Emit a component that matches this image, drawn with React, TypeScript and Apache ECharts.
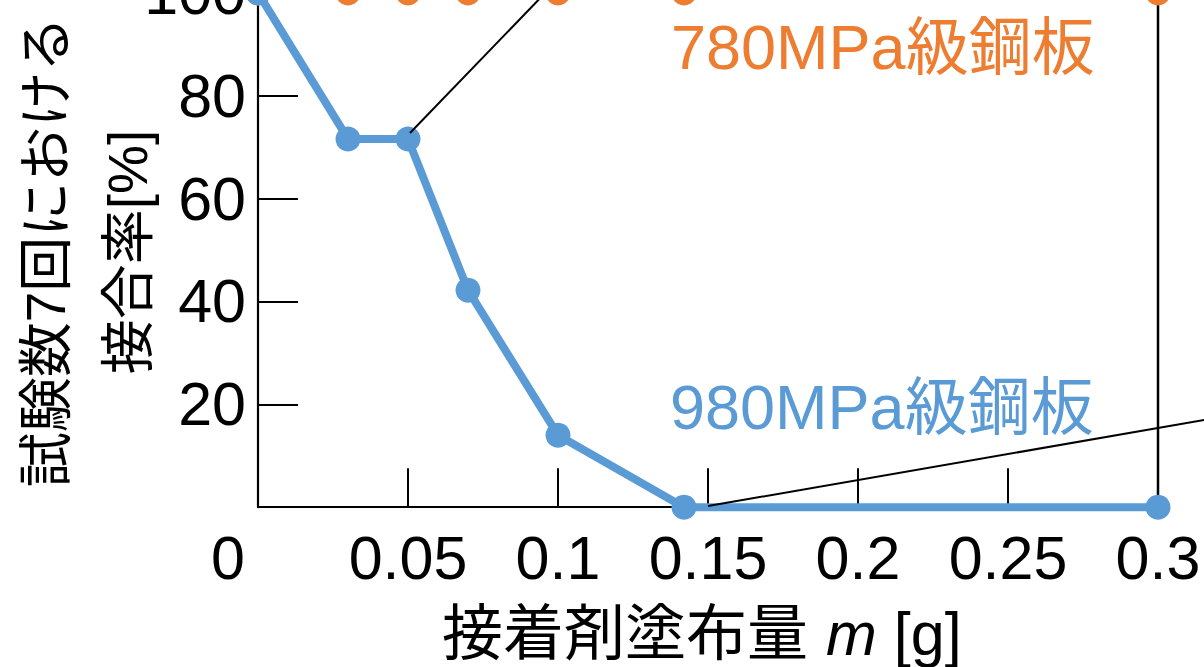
import React, { useEffect, useRef } from "react";
import * as echarts from "echarts";

// Adhesive amount m [g]
const amounts780 = [0, 0.03, 0.05, 0.07, 0.1, 0.142, 0.3];
const rate780 = [100, 100, 100, 100, 100, 100, 100];
const amounts980 = [0, 0.03, 0.05, 0.07, 0.1, 0.142, 0.3];
const rate980 = [100, 71.6, 71.6, 42.2, 14.0, 0, 0];
const guideLine = [
  [0.3, 100],
  [0.3, 0],
];
const xTicks = { min: 0, max: 0.3, interval: 0.05 };
const yTicks = { min: 0, max: 100, interval: 20 };
const label780 = "780MPa級鋼板";
const label980 = "980MPa級鋼板";
const yTitle = "試験数7回における\n接合率[%]";
const xTitleMain = "接着剤塗布量";
const xTitleVar = "m";
const xTitleUnit = " [g]";

const ORANGE = "#ED7D31";
const BLUE = "#5B9BD5";
const FONT = "'Liberation Sans', Arial, 'Noto Sans CJK JP', sans-serif";
// the figure is cropped at the top: the chart canvas starts above the window
const OFF = 40;

export default function App() {
  const ref = useRef<HTMLDivElement>(null);
  useEffect(() => {
    if (!ref.current) return;
    const chart = echarts.init(ref.current, null, { renderer: "svg" });
    const pair = (xs: number[], ys: number[]) => xs.map((x, i) => [x, ys[i]]);
    chart.setOption({
      animation: false,
      backgroundColor: "#ffffff",
      grid: { left: 258, right: 46, top: OFF - 7.1, bottom: 159.8, containLabel: false },
      xAxis: {
        type: "value",
        min: xTicks.min,
        max: xTicks.max,
        interval: xTicks.interval,
        axisLine: { show: true, onZero: false, lineStyle: { color: "#000", width: 2.2 } },
        axisTick: { show: true, inside: true, length: 39, lineStyle: { color: "#000", width: 2 } },
        splitLine: { show: false },
        axisLabel: {
          color: "#000",
          fontSize: 61,
          fontFamily: FONT,
          margin: 20,
          showMaxLabel: true,
          showMinLabel: true,
          formatter: (v: number) =>
            v === 0 ? "{z|0}" : String(Number(v.toFixed(2))),
          rich: { z: { fontSize: 61, fontFamily: FONT, color: "#000", padding: [0, 60, 0, 0] } },
        },
      },
      yAxis: {
        type: "value",
        min: yTicks.min,
        max: yTicks.max,
        interval: yTicks.interval,
        axisLine: { show: true, lineStyle: { color: "#000", width: 2.2 } },
        axisTick: { show: true, inside: true, length: 40, lineStyle: { color: "#000", width: 2 } },
        splitLine: { show: false },
        axisLabel: {
          color: "#000",
          fontSize: 61,
          fontFamily: FONT,
          margin: 12,
          padding: [9, 0, 0, 0],
          formatter: (v: number) => (v === 0 ? "" : String(v)),
        },
      },
      series: [
        {
          name: "guide",
          type: "line",
          data: guideLine,
          symbol: "none",
          clip: false,
          lineStyle: { color: "#000", width: 2.5 },
          z: 1,
        },
        {
          name: label780,
          type: "line",
          data: pair(amounts780, rate780),
          symbol: "circle",
          symbolSize: 25,
          clip: false,
          itemStyle: { color: ORANGE },
          lineStyle: { color: ORANGE, width: 8 },
          z: 2,
        },
        {
          name: label980,
          type: "line",
          data: pair(amounts980, rate980),
          symbol: "circle",
          symbolSize: 25,
          clip: false,
          itemStyle: { color: BLUE },
          lineStyle: { color: BLUE, width: 8 },
          z: 3,
        },
      ],
      graphic: [
        {
          type: "line",
          shape: { x1: 410, y1: OFF + 133, x2: 548, y2: OFF - 10 },
          style: { stroke: "#000", lineWidth: 2 },
          z: 10,
        },
        {
          type: "line",
          shape: { x1: 708, y1: OFF + 506, x2: 1210, y2: OFF + 419 },
          style: { stroke: "#000", lineWidth: 2 },
          z: 10,
        },
        {
          type: "text",
          x: 671,
          y: OFF + 47,
          style: {
            text: label780,
            fill: ORANGE,
            fontSize: 63,
            fontFamily: FONT,
            textAlign: "left",
            textVerticalAlign: "middle",
          },
          z: 10,
        },
        {
          type: "text",
          x: 670,
          y: OFF + 407,
          style: {
            text: label980,
            fill: BLUE,
            fontSize: 63,
            fontFamily: FONT,
            textAlign: "left",
            textVerticalAlign: "middle",
          },
          z: 10,
        },
        {
          type: "text",
          x: 87,
          y: OFF + 252,
          rotation: Math.PI / 2,
          style: {
            text: yTitle,
            fill: "#000",
            fontSize: 55,
            lineHeight: 82,
            fontFamily: FONT,
            textAlign: "center",
            textVerticalAlign: "middle",
          },
          z: 10,
        },
        {
          type: "text",
          x: 442,
          y: OFF + 634,
          style: {
            text: `{a|${xTitleMain}}{i|${xTitleVar}}{a|${xTitleUnit}}`,
            fill: "#000",
            fontSize: 61,
            fontFamily: FONT,
            textAlign: "left",
            textVerticalAlign: "middle",
            rich: {
              a: { fontSize: 61, fontFamily: FONT, fill: "#000" },
              i: { fontSize: 61, fontFamily: FONT, fontStyle: "italic", fill: "#000", padding: [0, 0, 0, 18] },
            },
          },
          z: 10,
        },
      ],
    });
    return () => chart.dispose();
  }, []);
  return (
    <div
      ref={ref}
      style={{ position: "absolute", left: 0, top: -OFF, width: 1204, height: 667 + OFF, background: "#fff" }}
    />
  );
}
